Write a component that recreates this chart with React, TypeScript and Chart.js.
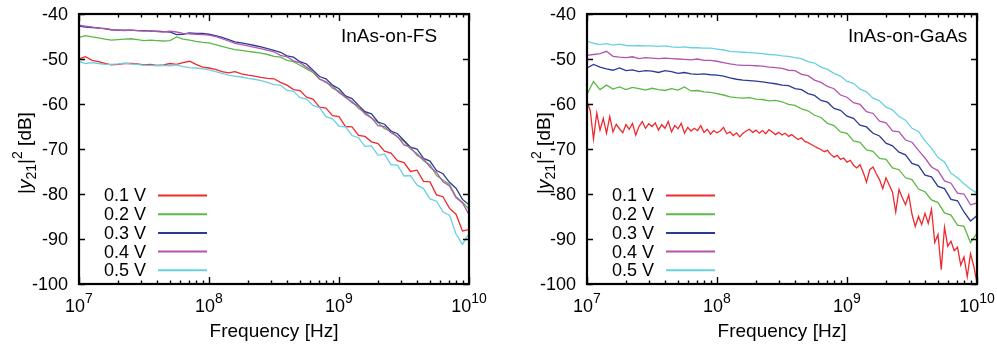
import React, { useEffect, useRef } from "react";
import { Chart, registerables } from "chart.js";
Chart.register(...registerables);

const FONT = '"Liberation Sans", Arial, Helvetica, sans-serif';

const VOLTAGES = ["0.1 V", "0.2 V", "0.3 V", "0.4 V", "0.5 V"];
const COLORS = ["#ee2a2f", "#5cb947", "#2b3b93", "#b455ad", "#69d0e0"];
const Y_TICKS = [-40, -50, -60, -70, -80, -90, -100];
const X_TICKS = [1e7, 1e8, 1e9, 1e10];
const X_TICK_EXP = ["7", "8", "9", "10"];
const X_MINOR = [
  2e7, 3e7, 4e7, 5e7, 6e7, 7e7, 8e7, 9e7,
  2e8, 3e8, 4e8, 5e8, 6e8, 7e8, 8e8, 9e8,
  2e9, 3e9, 4e9, 5e9, 6e9, 7e9, 8e9, 9e9,
];

// frequency grid (Hz)
const FREQ = [
  1.000e7, 1.122e7, 1.259e7, 1.413e7, 1.585e7, 1.778e7, 1.995e7, 2.239e7, 2.512e7, 2.818e7,
  3.162e7, 3.548e7, 3.981e7, 4.467e7, 5.012e7, 5.623e7, 6.310e7, 7.079e7, 7.943e7, 8.913e7,
  1.000e8, 1.122e8, 1.259e8, 1.413e8, 1.585e8, 1.778e8, 1.995e8, 2.239e8, 2.512e8, 2.818e8,
  3.162e8, 3.548e8, 3.981e8, 4.467e8, 5.012e8, 5.623e8, 6.310e8, 7.079e8, 7.943e8, 8.913e8,
  1.000e9, 1.122e9, 1.259e9, 1.413e9, 1.585e9, 1.778e9, 1.995e9, 2.239e9, 2.512e9, 2.818e9,
  3.162e9, 3.548e9, 3.981e9, 4.467e9, 5.012e9, 5.623e9, 6.310e9, 7.079e9, 7.943e9, 8.913e9,
  1.000e10,
];

// finer frequency grid (Hz) for the noisiest trace
const FREQ_FINE = [
  1.000e7, 1.059e7, 1.122e7, 1.189e7, 1.259e7, 1.334e7, 1.413e7, 1.496e7, 1.585e7, 1.679e7,
  1.778e7, 1.884e7, 1.995e7, 2.113e7, 2.239e7, 2.371e7, 2.512e7, 2.661e7, 2.818e7, 2.985e7,
  3.162e7, 3.350e7, 3.548e7, 3.758e7, 3.981e7, 4.217e7, 4.467e7, 4.732e7, 5.012e7, 5.309e7,
  5.623e7, 5.957e7, 6.310e7, 6.683e7, 7.079e7, 7.499e7, 7.943e7, 8.414e7, 8.913e7, 9.441e7,
  1.000e8, 1.059e8, 1.122e8, 1.189e8, 1.259e8, 1.334e8, 1.413e8, 1.496e8, 1.585e8, 1.679e8,
  1.778e8, 1.884e8, 1.995e8, 2.113e8, 2.239e8, 2.371e8, 2.512e8, 2.661e8, 2.818e8, 2.985e8,
  3.162e8, 3.350e8, 3.548e8, 3.758e8, 3.981e8, 4.217e8, 4.467e8, 4.732e8, 5.012e8, 5.309e8,
  5.623e8, 5.957e8, 6.310e8, 6.683e8, 7.079e8, 7.499e8, 7.943e8, 8.414e8, 8.913e8, 9.441e8,
  1.000e9, 1.059e9, 1.122e9, 1.189e9, 1.259e9, 1.334e9, 1.413e9, 1.496e9, 1.585e9, 1.679e9,
  1.778e9, 1.884e9, 1.995e9, 2.113e9, 2.239e9, 2.371e9, 2.512e9, 2.661e9, 2.818e9, 2.985e9,
  3.162e9, 3.350e9, 3.548e9, 3.758e9, 3.981e9, 4.217e9, 4.467e9, 4.732e9, 5.012e9, 5.309e9,
  5.623e9, 5.957e9, 6.310e9, 6.683e9, 7.079e9, 7.499e9, 7.943e9, 8.414e9, 8.913e9, 9.441e9,
  1.000e10,
];

// ---- InAs-on-FS (dB) ----
const FS_01 = [
  -50.0, -49.5, -50.3, -50.6, -51.0, -51.3, -51.2, -51.0, -51.0, -51.1,
  -51.3, -51.2, -51.4, -51.3, -51.0, -51.2, -50.8, -50.5, -51.2, -51.8,
  -52.0, -52.3, -52.8, -53.1, -52.8, -53.3, -53.6, -53.8, -54.1, -54.3,
  -54.4, -55.2, -55.8, -56.8, -57.0, -58.5, -58.9, -60.7, -60.9, -62.6,
  -62.8, -65.0, -65.1, -67.0, -67.2, -68.4, -68.8, -70.5, -70.9, -72.6,
  -73.0, -75.0, -74.7, -77.2, -77.3, -80.2, -80.6, -83.2, -84.5, -88.2,
  -87.9,
];
const FS_02 = [
  -45.2, -44.8, -45.1, -45.3, -45.6, -45.8, -45.7, -45.6, -45.5, -45.7,
  -45.9, -45.8, -45.9, -46.0, -45.9, -45.1, -45.6, -45.8, -46.1, -46.3,
  -46.4, -46.8, -47.2, -47.6, -47.9, -48.1, -48.3, -48.5, -48.7, -49.0,
  -49.4, -49.6, -50.3, -50.6, -51.4, -52.2, -53.0, -54.5, -55.0, -56.5,
  -57.2, -58.6, -59.4, -61.0, -61.8, -63.1, -64.1, -65.5, -66.0, -67.4,
  -68.3, -70.0, -71.0, -72.6, -73.5, -75.9, -76.9, -77.9, -80.6, -81.8,
  -83.4,
];
const FS_03 = [
  -42.7, -42.9, -43.0, -43.1, -43.3, -43.5, -43.6, -43.6, -43.6, -43.7,
  -43.7, -43.8, -43.8, -43.9, -44.0, -44.6, -44.5, -44.2, -44.3, -44.3,
  -44.5, -44.8, -45.2, -45.7, -46.2, -46.4, -46.7, -47.0, -47.3, -47.7,
  -48.1, -48.5, -49.3, -49.6, -50.6, -51.1, -52.5, -53.9, -54.4, -55.8,
  -56.6, -58.2, -58.8, -60.3, -61.7, -62.2, -64.0, -64.5, -66.0, -66.6,
  -68.1, -69.6, -70.0, -72.1, -72.7, -74.8, -75.5, -77.4, -78.7, -81.2,
  -82.4,
];
const FS_04 = [
  -42.5, -42.7, -42.9, -43.2, -43.2, -43.5, -43.6, -43.7, -43.6, -43.7,
  -43.8, -43.7, -43.9, -44.0, -43.8, -44.0, -44.3, -44.4, -44.5, -44.6,
  -44.7, -45.0, -45.5, -46.0, -46.5, -46.8, -47.1, -47.4, -47.7, -48.1,
  -48.4, -49.2, -49.5, -50.4, -50.8, -51.8, -52.7, -54.4, -55.2, -56.0,
  -57.5, -58.4, -59.7, -60.5, -62.2, -63.1, -64.8, -65.0, -66.4, -67.2,
  -69.1, -69.6, -71.4, -72.2, -74.0, -75.2, -77.3, -78.2, -80.8, -82.0,
  -84.6,
];
const FS_05 = [
  -50.5, -51.0, -50.8, -51.0, -51.2, -51.2, -51.1, -50.9, -51.1, -51.2,
  -51.4, -51.4, -51.5, -51.4, -51.5, -51.3, -51.7, -51.9, -52.0, -52.2,
  -52.4, -52.8, -53.2, -53.6, -53.8, -54.0, -54.3, -54.5, -54.8, -55.2,
  -55.7, -55.8, -57.0, -57.2, -58.6, -58.9, -60.3, -60.8, -62.8, -63.3,
  -64.9, -65.1, -67.0, -67.5, -69.4, -69.3, -71.4, -71.1, -73.5, -73.6,
  -76.0, -75.9, -78.0, -78.8, -81.1, -81.6, -84.0, -84.7, -88.9, -91.2,
  -88.8,
];

// ---- InAs-on-GaAs (dB) ----
const GA_01 = [
  -59.5, -61.5, -67.8, -62.0, -65.8, -63.2, -66.5, -62.8, -66.2, -64.5,
  -65.5, -66.4, -64.6, -65.6, -64.3, -66.9, -65.0, -63.9, -65.4, -64.4,
  -65.0, -64.2, -65.8, -64.6, -65.4, -63.9, -66.2, -64.8, -65.5, -64.3,
  -66.5, -65.2, -66.0, -65.4, -65.9, -64.8, -66.3, -65.6, -66.7, -65.9,
  -66.4, -66.0, -65.2, -66.6, -66.2, -67.0, -66.4, -67.3, -66.5, -66.0,
  -65.6, -66.3, -65.8, -66.5, -65.9, -66.6, -65.7, -66.2, -66.8, -66.3,
  -66.9, -66.5, -67.2, -66.8, -67.4, -67.9, -67.5, -68.3, -68.6, -69.0,
  -69.4, -69.8, -70.1, -70.6, -70.3, -71.2, -71.8, -71.4, -72.3, -72.0,
  -72.9, -72.5, -73.6, -74.2, -73.5, -75.2, -77.4, -74.6, -74.0, -75.5,
  -76.8, -78.8, -76.4, -78.0, -79.6, -84.0, -79.0, -80.8, -82.4, -80.2,
  -84.5, -87.2, -85.0, -86.8, -84.3, -86.5, -83.4, -90.8, -89.0, -96.8,
  -87.4, -91.6, -90.5, -92.6, -91.8, -95.8, -94.0, -98.4, -93.3, -96.0,
  -99.8,
];
const GA_02 = [
  -57.8, -55.0, -56.8, -55.8, -56.7, -56.2, -56.8, -56.3, -56.6, -56.9,
  -56.5, -56.8, -57.0, -56.6, -56.9, -56.2, -57.1, -57.0, -57.3, -57.4,
  -57.7, -58.0, -58.4, -58.6, -58.7, -58.6, -58.9, -59.0, -59.3, -59.2,
  -59.5, -60.1, -60.3, -61.1, -61.5, -62.5, -63.0, -64.3, -64.8, -66.2,
  -66.5, -68.2, -68.5, -70.2, -70.5, -72.1, -72.3, -74.2, -74.6, -76.4,
  -76.8, -78.9, -79.5, -81.3, -81.9, -84.2, -84.7, -86.9, -87.2, -90.8,
  -88.7,
];
const GA_03 = [
  -52.0, -51.2, -51.8, -52.2, -52.5, -52.0, -52.6, -52.4, -52.8, -52.6,
  -52.7, -53.0, -52.6, -52.8, -53.2, -53.0, -53.3, -53.4, -53.3, -53.5,
  -53.6, -53.8, -54.2, -54.5, -54.7, -54.8, -54.9, -55.1, -55.3, -55.5,
  -55.8, -55.9, -56.6, -56.8, -57.7, -58.1, -59.2, -59.6, -61.0, -61.4,
  -62.7, -63.2, -64.7, -65.1, -66.5, -67.1, -68.7, -69.3, -70.7, -71.3,
  -73.2, -73.7, -75.8, -76.2, -78.3, -78.8, -81.2, -81.5, -84.0, -86.0,
  -84.8,
];
const GA_04 = [
  -49.2, -49.0, -48.8, -48.3, -49.4, -49.6, -49.7, -49.5, -49.9, -49.7,
  -49.8, -49.9, -49.8, -49.9, -50.0, -50.1, -50.2, -50.0, -50.3, -50.3,
  -50.5, -50.8, -51.1, -51.3, -51.4, -51.4, -51.5, -51.6, -51.8, -51.9,
  -52.1, -52.5, -52.6, -53.4, -53.7, -54.7, -55.2, -56.1, -56.6, -58.0,
  -58.5, -59.7, -60.1, -61.7, -62.1, -63.8, -64.2, -66.0, -66.2, -68.0,
  -68.5, -70.3, -72.0, -74.0, -74.8, -77.1, -77.6, -79.8, -80.0, -82.4,
  -82.0,
];
const GA_05 = [
  -46.0, -46.5, -46.8, -46.6, -46.9, -46.7, -47.0, -47.1, -47.0, -47.1,
  -47.1, -47.2, -47.1, -47.3, -47.4, -47.3, -47.5, -47.5, -47.6, -47.6,
  -47.8, -48.0, -48.3, -48.4, -48.5, -48.6, -48.7, -48.8, -49.0, -49.1,
  -49.3, -49.4, -49.7, -49.9, -50.6, -50.9, -51.8, -52.3, -53.2, -53.8,
  -55.0, -55.4, -56.7, -57.3, -58.7, -59.3, -60.7, -61.3, -62.8, -63.6,
  -65.4, -66.1, -68.2, -69.8, -71.9, -72.9, -75.4, -76.4, -77.7, -78.9,
  -79.8,
];

type Series = { f: number[]; v: number[] };

const FS_SERIES: Series[] = [
  { f: FREQ, v: FS_01 },
  { f: FREQ, v: FS_02 },
  { f: FREQ, v: FS_03 },
  { f: FREQ, v: FS_04 },
  { f: FREQ, v: FS_05 },
];
const GA_SERIES: Series[] = [
  { f: FREQ_FINE, v: GA_01 },
  { f: FREQ, v: GA_02 },
  { f: FREQ, v: GA_03 },
  { f: FREQ, v: GA_04 },
  { f: FREQ, v: GA_05 },
];

type PanelCfg = {
  title: string;
  titleX: number;
  yLabelX: number;
  padLeft: number;
  padRight: number;
  width: number;
  left: number;
  series: Series[];
};

function makeDecor(cfg: PanelCfg) {
  return {
    id: "decor",
    afterDatasetsDraw(chart: any) {
      const ctx: CanvasRenderingContext2D = chart.ctx;
      const ca = chart.chartArea;
      const xs = chart.scales.x;
      const ys = chart.scales.y;
      ctx.save();
      ctx.strokeStyle = "#000";
      ctx.fillStyle = "#000";

      // ticks
      ctx.lineWidth = 1.4;
      ctx.beginPath();
      for (const v of Y_TICKS) {
        const y = Math.round(ys.getPixelForValue(v)) + 0.5;
        ctx.moveTo(ca.left, y);
        ctx.lineTo(ca.left + 6, y);
        ctx.moveTo(ca.right, y);
        ctx.lineTo(ca.right - 6, y);
      }
      for (const t of X_TICKS) {
        const x = Math.round(xs.getPixelForValue(t)) + 0.5;
        ctx.moveTo(x, ca.bottom);
        ctx.lineTo(x, ca.bottom - 7);
        ctx.moveTo(x, ca.top);
        ctx.lineTo(x, ca.top + 7);
      }
      for (const t of X_MINOR) {
        const x = Math.round(xs.getPixelForValue(t)) + 0.5;
        ctx.moveTo(x, ca.bottom);
        ctx.lineTo(x, ca.bottom - 3.5);
        ctx.moveTo(x, ca.top);
        ctx.lineTo(x, ca.top + 3.5);
      }
      ctx.stroke();

      // frame
      ctx.lineWidth = 2.2;
      ctx.strokeRect(ca.left, ca.top, ca.right - ca.left, ca.bottom - ca.top);

      // y tick labels
      ctx.font = `18px ${FONT}`;
      ctx.textAlign = "right";
      ctx.textBaseline = "middle";
      for (const v of Y_TICKS) {
        ctx.fillText(String(v), ca.left - 11, ys.getPixelForValue(v) + 1);
      }

      // x tick labels 10^n
      ctx.textAlign = "left";
      ctx.textBaseline = "alphabetic";
      X_TICKS.forEach((t, i) => {
        const x = xs.getPixelForValue(t);
        ctx.font = `18px ${FONT}`;
        const w1 = ctx.measureText("10").width;
        ctx.font = `14px ${FONT}`;
        const w2 = ctx.measureText(X_TICK_EXP[i]).width;
        const start = x - (w1 + w2) / 2;
        ctx.font = `18px ${FONT}`;
        ctx.fillText("10", start, 312);
        ctx.font = `14px ${FONT}`;
        ctx.fillText(X_TICK_EXP[i], start + w1, 303);
      });

      // x axis title
      ctx.font = `19px ${FONT}`;
      ctx.textAlign = "center";
      ctx.fillText("Frequency [Hz]", (ca.left + ca.right) / 2, 337);

      // y axis title |y21|^2 [dB]
      const parts = [
        { t: "|", f: `19px ${FONT}`, dy: 0 },
        { t: "y", f: `italic 19px ${FONT}`, dy: 0 },
        { t: "21", f: `14px ${FONT}`, dy: 5 },
        { t: "|", f: `19px ${FONT}`, dy: 0 },
        { t: "2", f: `14px ${FONT}`, dy: -9 },
        { t: " [dB]", f: `19px ${FONT}`, dy: 0 },
      ];
      let total = 0;
      const widths = parts.map((p) => {
        ctx.font = p.f;
        const w = ctx.measureText(p.t).width;
        total += w;
        return w;
      });
      ctx.save();
      ctx.translate(cfg.yLabelX, 153);
      ctx.rotate(-Math.PI / 2);
      ctx.textAlign = "left";
      let cx = -total / 2;
      parts.forEach((p, i) => {
        ctx.font = p.f;
        ctx.fillText(p.t, cx, p.dy);
        cx += widths[i];
      });
      ctx.restore();

      // panel title
      ctx.font = `19px ${FONT}`;
      ctx.textAlign = "left";
      ctx.fillText(cfg.title, cfg.titleX, 42);

      // legend
      const ds = chart.data.datasets;
      ctx.font = `18px ${FONT}`;
      ctx.textBaseline = "middle";
      ds.forEach((d: any, i: number) => {
        const y = 195.5 + i * 18.7;
        ctx.textAlign = "right";
        ctx.fillStyle = "#000";
        ctx.fillText(d.label, ca.left + 67, y + 1);
        ctx.strokeStyle = d.borderColor;
        ctx.lineWidth = 2;
        ctx.beginPath();
        ctx.moveTo(ca.left + 79, y);
        ctx.lineTo(ca.left + 128, y);
        ctx.stroke();
      });
      ctx.restore();
    },
  };
}

function Panel({ cfg }: { cfg: PanelCfg }) {
  const ref = useRef<HTMLCanvasElement | null>(null);
  useEffect(() => {
    if (!ref.current) return;
    const chart = new Chart(ref.current, {
      type: "line",
      data: {
        datasets: cfg.series.map((s, i) => ({
          label: VOLTAGES[i],
          data: s.f.map((f, j) => ({ x: f, y: s.v[j] })),
          borderColor: COLORS[i],
          backgroundColor: COLORS[i],
          borderWidth: 1.3,
          pointRadius: 0,
          fill: false,
          tension: 0,
          order: 4 - i,
        })),
      },
      options: {
        responsive: false,
        animation: false,
        devicePixelRatio: 1,
        events: [],
        layout: { padding: { left: cfg.padLeft, right: cfg.padRight, top: 14, bottom: 61 } },
        plugins: {
          legend: { display: false },
          tooltip: { enabled: false },
          title: { display: false },
        },
        scales: {
          x: { type: "logarithmic", min: 1e7, max: 1e10, display: false },
          y: { type: "linear", min: -100, max: -40, display: false },
        },
      },
      plugins: [makeDecor(cfg)],
    } as any);
    return () => chart.destroy();
  }, [cfg]);
  return (
    <canvas
      ref={ref}
      width={cfg.width}
      height={345}
      style={{ position: "absolute", left: cfg.left, top: 0, width: cfg.width, height: 345 }}
    />
  );
}

const LEFT_CFG: PanelCfg = {
  title: "InAs-on-FS",
  titleX: 341,
  yLabelX: 31,
  padLeft: 79,
  padRight: 29,
  width: 498,
  left: 0,
  series: FS_SERIES,
};
const RIGHT_CFG: PanelCfg = {
  title: "InAs-on-GaAs",
  titleX: 350,
  yLabelX: 52,
  padLeft: 89,
  padRight: 20,
  width: 499,
  left: 498,
  series: GA_SERIES,
};

export default function App() {
  return (
    <div style={{ position: "absolute", left: 0, top: 0, width: 997, height: 345, background: "#fff" }}>
      <Panel cfg={LEFT_CFG} />
      <Panel cfg={RIGHT_CFG} />
    </div>
  );
}
